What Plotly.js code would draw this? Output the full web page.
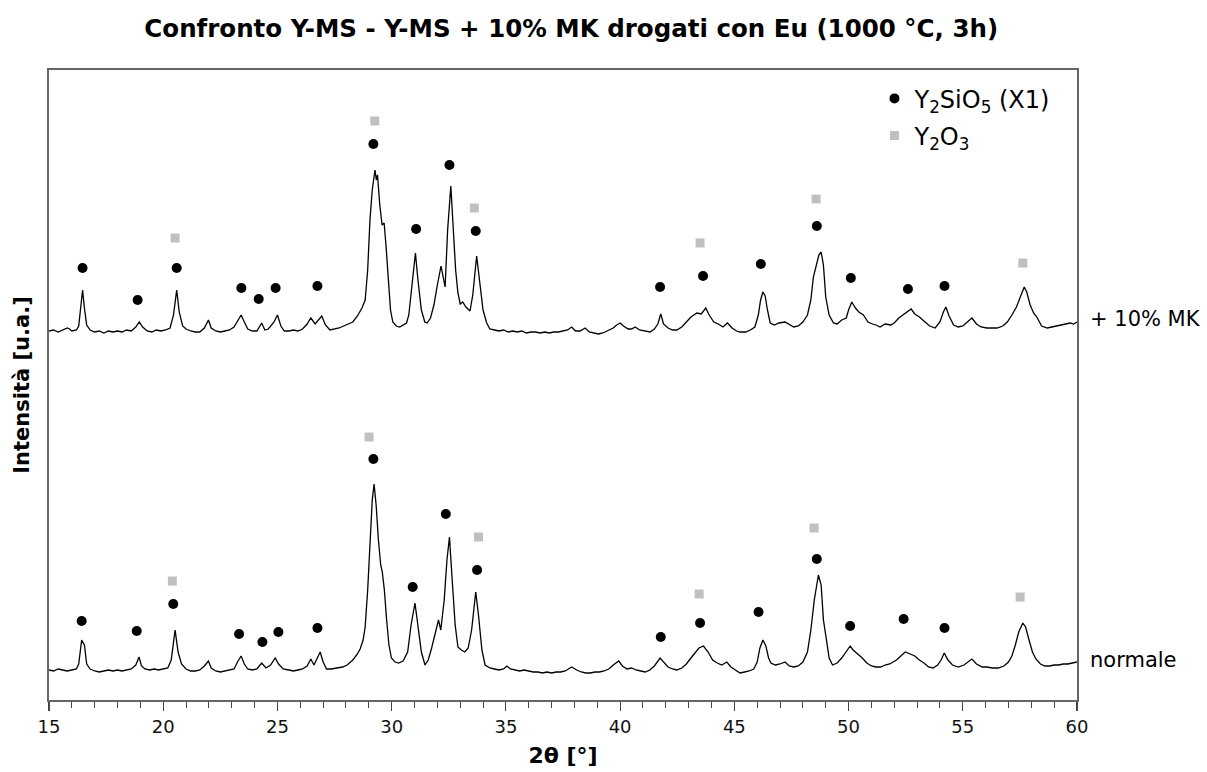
<!DOCTYPE html>
<html>
<head>
<meta charset="utf-8">
<script src="https://cdn.plot.ly/plotly-3.0.1.min.js"></script>
<style>html,body{margin:0;padding:0;background:#fff;}#chart{width:1207px;height:772px;}</style>
</head>
<body>
<div id="chart"></div>
<script>
// ---- Data (2θ in degrees, intensity in arbitrary units) ----
const tt_mk = [15.0,15.2,15.4,15.6,15.8,15.9,16.0,16.2,16.3,16.4,16.47,16.55,16.65,16.8,17.0,17.2,17.4,17.6,17.8,18.0,18.2,18.4,18.6,18.8,18.95,19.1,19.3,19.5,19.7,19.9,20.1,20.3,20.45,20.59,20.7,20.85,21.0,21.2,21.4,21.6,21.8,21.98,22.1,22.3,22.5,22.7,22.9,23.1,23.3,23.41,23.55,23.7,23.9,24.1,24.31,24.45,24.6,24.85,25.0,25.15,25.3,25.5,25.7,25.9,26.1,26.3,26.46,26.65,26.94,27.1,27.3,27.5,27.7,27.9,28.1,28.3,28.5,28.7,28.84,28.95,29.05,29.15,29.27,29.33,29.38,29.48,29.58,29.67,29.75,29.85,29.95,30.05,30.2,30.35,30.5,30.65,30.75,30.9,31.04,31.15,31.3,31.45,31.55,31.7,31.85,32.0,32.16,32.34,32.45,32.59,32.7,32.8,32.9,33.0,33.11,33.25,33.43,33.55,33.72,33.85,34.0,34.16,34.3,34.5,34.7,34.9,35.1,35.3,35.5,35.7,35.9,36.1,36.3,36.5,36.7,36.9,37.1,37.3,37.5,37.7,37.88,38.05,38.25,38.47,38.65,38.85,39.05,39.25,39.45,39.7,39.85,40.0,40.15,40.35,40.5,40.66,40.85,41.1,41.31,41.5,41.65,41.78,41.9,42.1,42.3,42.48,42.7,42.9,43.1,43.36,43.55,43.75,43.9,44.1,44.3,44.5,44.7,44.9,45.1,45.25,45.5,45.7,45.9,46.05,46.15,46.25,46.35,46.45,46.57,46.75,46.95,47.22,47.4,47.6,47.8,48.0,48.2,48.35,48.46,48.6,48.7,48.8,48.9,49.0,49.15,49.34,49.5,49.7,49.9,50.0,50.14,50.3,50.45,50.65,50.85,51.05,51.2,51.38,51.6,51.85,52.0,52.2,52.45,52.74,52.9,53.1,53.35,53.55,53.79,54.0,54.15,54.26,54.4,54.6,54.8,55.0,55.2,55.4,55.6,55.8,56.05,56.3,56.5,56.75,56.95,57.15,57.35,57.5,57.69,57.8,57.95,58.1,58.24,58.45,58.7,58.9,59.1,59.3,59.5,59.7,59.85,60.0];
const int_mk = [369,370,368,370,372,371,369,370,374,395,410,392,375,370,368,369,367,369,368,369,368,370,369,373,378,373,369,368,370,369,370,372,385,410,388,374,371,369,368,368,372,380,372,369,368,369,370,373,380,385,378,371,369,369,377,370,371,378,385,374,369,369,370,369,371,376,382,376,384,375,370,371,372,374,376,378,384,392,400,430,480,510,530,520,525,495,475,477,455,420,390,378,374,373,375,377,385,420,447,420,390,378,377,382,395,415,434,413,470,514,470,430,407,396,398,393,389,405,444,420,390,377,371,370,369,370,368,369,368,369,367,368,368,367,368,367,368,368,369,370,373,369,369,372,368,367,366,367,369,372,375,377,374,371,371,373,370,369,368,371,376,386,376,372,370,370,373,378,383,387,386,392,385,378,376,373,377,372,369,368,368,370,373,385,400,408,404,390,377,375,377,378,376,373,374,378,385,400,423,435,445,448,435,403,385,377,376,380,382,390,398,392,388,385,378,376,375,373,376,375,377,382,386,391,386,383,378,374,372,378,388,393,384,375,373,374,378,382,376,373,372,372,372,374,378,385,393,402,413,408,395,387,383,374,372,373,374,375,376,377,376,378];

const tt_norm = [15.0,15.2,15.4,15.6,15.8,16.0,16.2,16.3,16.43,16.55,16.65,16.8,17.0,17.2,17.4,17.6,17.8,18.0,18.2,18.4,18.6,18.8,18.94,19.05,19.2,19.4,19.6,19.8,20.0,20.2,20.35,20.52,20.65,20.8,21.0,21.2,21.4,21.6,21.8,21.98,22.1,22.3,22.5,22.7,22.9,23.1,23.25,23.41,23.55,23.7,23.9,24.1,24.31,24.5,24.7,24.9,25.05,25.25,25.5,25.7,25.9,26.1,26.3,26.46,26.6,26.87,27.0,27.15,27.35,27.6,27.85,28.05,28.3,28.5,28.62,28.75,28.84,28.95,29.05,29.15,29.23,29.32,29.42,29.52,29.59,29.68,29.78,29.88,29.99,30.15,30.3,30.5,30.7,30.85,31.02,31.15,31.3,31.46,31.6,31.75,31.9,32.05,32.15,32.3,32.42,32.53,32.65,32.78,32.9,33.05,33.2,33.35,33.5,33.68,33.8,33.95,34.09,34.3,34.5,34.7,34.9,35.04,35.2,35.4,35.6,35.8,36.0,36.2,36.4,36.6,36.8,37.0,37.2,37.4,37.6,37.88,38.1,38.3,38.5,38.7,38.9,39.1,39.3,39.5,39.7,39.94,40.1,40.3,40.5,40.7,40.9,41.1,41.3,41.5,41.75,41.9,42.1,42.3,42.48,42.7,42.9,43.1,43.3,43.45,43.65,43.85,44.05,44.25,44.45,44.67,44.85,45.05,45.25,45.45,45.65,45.85,46.0,46.12,46.25,46.38,46.5,46.6,46.8,47.0,47.22,47.4,47.6,47.8,48.0,48.2,48.35,48.5,48.68,48.8,48.9,49.0,49.15,49.3,49.5,49.7,49.9,50.07,50.2,50.4,50.6,50.8,51.0,51.2,51.4,51.6,51.8,52.1,52.3,52.48,52.7,52.9,53.1,53.3,53.5,53.7,53.9,54.05,54.19,54.35,54.55,54.8,55.05,55.25,55.4,55.6,55.85,56.05,56.3,56.55,56.8,57.0,57.15,57.3,57.45,57.63,57.75,57.9,58.05,58.2,58.4,58.6,58.8,59.0,59.2,59.4,59.6,59.8,60.0];
const int_norm = [30,29,31,30,29,30,31,36,60,55,36,31,29,28,29,30,29,30,29,30,31,35,43,34,31,30,31,30,31,32,40,70,48,36,31,29,29,30,34,39,32,29,28,29,30,31,38,44,36,31,30,31,37,32,35,42,36,31,30,29,30,31,34,41,35,48,38,31,31,32,33,35,40,46,51,60,73,110,160,200,216,195,160,135,128,110,80,55,42,38,37,39,48,75,97,75,48,35,40,52,65,80,70,100,140,163,120,75,53,50,48,52,70,108,85,50,35,32,31,30,31,34,31,30,29,30,29,28,28,27,28,27,28,28,29,33,30,28,27,27,28,28,29,31,35,39,34,31,32,30,29,28,30,34,42,38,33,31,30,32,36,42,48,52,54,48,40,37,35,38,33,30,27,28,29,31,38,52,60,54,42,37,35,36,38,34,33,34,38,48,70,100,125,115,80,65,42,35,37,42,48,54,50,46,42,37,34,33,33,35,36,40,44,48,46,44,40,37,33,32,35,40,47,40,35,33,35,38,41,36,33,33,32,32,34,38,44,55,68,77,73,60,48,41,36,34,34,35,35,36,36,37,38];

// Phase markers: Y2SiO5 (circles) and Y2O3 (squares), for both patterns
const ysio_tt_mk  = [16.47,18.88,20.59,23.42,24.18,24.92,26.75,29.20,31.07,32.53,33.68,41.75,43.63,46.16,48.61,50.10,52.60,54.20];
const ysio_int_mk = [432,400,432,412,401,412,414,556,471,535,469,413,424,436,474,422,411,414];
const yo_tt_mk    = [20.52,29.26,33.62,43.50,48.58,57.63];
const yo_int_mk   = [462,579,492,457,501,437];
const ysio_tt_norm  = [16.43,18.84,20.44,23.32,24.34,25.04,26.75,29.20,30.92,32.37,33.74,41.78,43.50,46.06,48.61,50.07,52.41,54.20];
const ysio_int_norm = [79,69,96,66,58,68,72,241,113,186,130,63,77,88,141,74,81,72];
const yo_tt_norm    = [20.40,29.01,33.80,43.46,48.49,57.51];
const yo_int_norm   = [119,263,163,106,172,103];

const seriesLabels = ['+ 10% MK', 'normale'];
const phaseNames = ['Y<sub>2</sub>SiO<sub>5</sub> (X1)', 'Y<sub>2</sub>O<sub>3</sub>'];
const xTicks = [15,20,25,30,35,40,45,50,55,60];

const FONT = "Tahoma, 'DejaVu Sans', Verdana, sans-serif";

const traces = [
  {x: tt_mk, y: int_mk, type: 'scatter', mode: 'lines', line: {color: '#000', width: 1.3}, showlegend: false, hoverinfo: 'skip'},
  {x: tt_norm, y: int_norm, type: 'scatter', mode: 'lines', line: {color: '#000', width: 1.3}, showlegend: false, hoverinfo: 'skip'},
  {x: ysio_tt_mk.concat(ysio_tt_norm), y: ysio_int_mk.concat(ysio_int_norm), type: 'scatter', mode: 'markers',
   name: phaseNames[0], marker: {symbol: 'circle', size: 10, color: '#000'}, legendgroup: 'a'},
  {x: yo_tt_mk.concat(yo_tt_norm), y: yo_int_mk.concat(yo_int_norm), type: 'scatter', mode: 'markers',
   name: phaseNames[1], marker: {symbol: 'square', size: 9, color: '#c0c0c0'}, legendgroup: 'b'}
];

const axisLine = '#666';
const layout = {
  width: 1207, height: 772,
  margin: {l: 49, r: 130, t: 70, b: 72, pad: 0},
  paper_bgcolor: '#fff', plot_bgcolor: '#fff',
  font: {family: FONT, color: '#000'},
  title: {text: '<b>Confronto Y-MS - Y-MS + 10% MK drogati con Eu (1000 °C, 3h)</b>',
          font: {family: FONT, size: 24.5, color: '#000'}, xref: 'paper', x: 0.508, xanchor: 'center',
          y: 1 - 28/772, yanchor: 'middle'},
  xaxis: {range: [15, 60], tickvals: xTicks, ticktext: xTicks.map(String), ticks: 'outside', ticklen: 9, tickwidth: 1.2, tickcolor: '#444',
          minor: {dtick: 1, ticks: 'outside', ticklen: 6, tickwidth: 1, tickcolor: '#444', showgrid: false},
          showgrid: false, zeroline: false, showline: true, mirror: true, linecolor: axisLine, linewidth: 2,
          tickfont: {size: 18, family: FONT, color: '#111'},
          title: {text: '<b>2θ [°]</b>', font: {size: 22, family: FONT}, standoff: 12}},
  yaxis: {range: [0, 630], showticklabels: false, ticks: '', showgrid: false, zeroline: false,
          showline: true, mirror: true, linecolor: axisLine, linewidth: 2,
          title: {text: '<b>Intensità [u.a.]</b>', font: {size: 21, family: FONT}, standoff: 12}},
  legend: {x: 0.803, y: 0.99, xanchor: 'left', yanchor: 'top', bgcolor: 'rgba(0,0,0,0)',
           font: {size: 24, family: FONT, color: '#000'}, tracegroupgap: 3, itemclick: false},
  annotations: [
    {xref: 'paper', yref: 'y', x: 1.011, y: 381, xanchor: 'left', yanchor: 'middle', text: seriesLabels[0], showarrow: false, font: {size: 21, family: FONT, color: '#000'}},
    {xref: 'paper', yref: 'y', x: 1.011, y: 40, xanchor: 'left', yanchor: 'middle', text: seriesLabels[1], showarrow: false, font: {size: 21, family: FONT, color: '#000'}}
  ],
  hovermode: false
};

Plotly.newPlot('chart', traces, layout, {displayModeBar: false, staticPlot: true});
</script>
</body>
</html>
